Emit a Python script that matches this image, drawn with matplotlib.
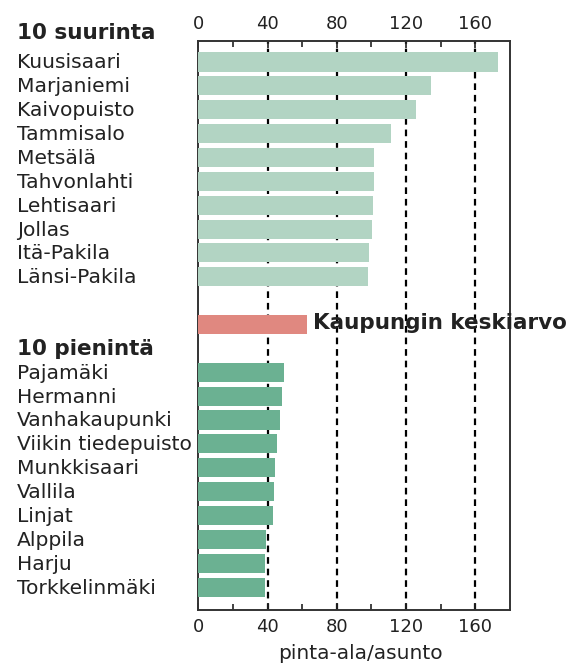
import matplotlib
matplotlib.use('Agg')
import matplotlib.pyplot as plt
from matplotlib.transforms import blended_transform_factory

# data
largest = ['Kuusisaari', 'Marjaniemi', 'Kaivopuisto', 'Tammisalo', 'Metsälä',
           'Tahvonlahti', 'Lehtisaari', 'Jollas', 'Itä-Pakila', 'Länsi-Pakila']
largest_val = [172.8, 134.3, 125.5, 111.2, 101.6, 101.3, 100.9, 100.1, 98.3, 98.2]
smallest = ['Pajamäki', 'Hermanni', 'Vanhakaupunki', 'Viikin tiedepuisto', 'Munkkisaari',
            'Vallila', 'Linjat', 'Alppila', 'Harju', 'Torkkelinmäki']
smallest_val = [49.6, 48.1, 47.3, 45.4, 44.2, 44.0, 43.0, 39.3, 38.5, 38.5]
avg_label = 'Kaupungin keskiarvo'
avg_val = 62.5
headers = ['10 suurinta', '10 pienintä']
xticks = [0, 40, 80, 120, 160]
xlabel = 'pinta-ala/asunto'

c_light = '#b2d4c3'
c_dark = '#6bb192'
c_avg = '#e08880'

plt.rcParams['font.family'] = ['DejaVu Sans']

fig = plt.figure(figsize=(5.77, 6.65), dpi=100)
ax = fig.add_axes([198.3 / 577, 1 - 610 / 665, (510 - 198.3) / 577, (610 - 41) / 665])

pos_top = list(range(10))
pos_avg = 11
pos_bot = [13 + i for i in range(10)]

ax.barh(pos_top, largest_val, height=0.8, color=c_light, zorder=3)
ax.barh([pos_avg], [avg_val], height=0.8, color=c_avg, zorder=3)
ax.barh(pos_bot, smallest_val, height=0.8, color=c_dark, zorder=3)

ax.set_xlim(0, 180)
ax.set_ylim(22.96, -0.88)

for x in xticks[1:]:
    ax.axvline(x, color='black', lw=1.6, ls=(0, (3, 2.2)), zorder=1)

ax.set_xticks(xticks)
ax.set_xticks([20, 60, 100, 140], minor=True)
ax.tick_params(axis='x', which='both', direction='in', top=True, bottom=True,
               labeltop=True, labelbottom=True, labelsize=13, colors='#222222', pad=6)
ax.tick_params(axis='x', which='major', length=5, width=1.2)
ax.tick_params(axis='x', which='minor', length=4, width=1.2)
ax.set_yticks([])
for s in ax.spines.values():
    s.set_color('#333333')
    s.set_linewidth(1.4)

ax.set_xlabel(xlabel, fontsize=14.5, color='#222222')
ax.xaxis.set_label_coords(0.521, -0.06)

trans = blended_transform_factory(fig.transFigure, ax.transData)
lx = 17 / 577
for name, p in zip(largest + smallest, pos_top + pos_bot):
    ax.text(lx, p + 0.27, name, transform=trans, fontsize=14.6, va='baseline',
            ha='left', color='#222222', clip_on=False)
ax.text(lx, -1.25 + 0.27, headers[0], transform=trans, fontsize=15.5, fontweight='bold',
        va='baseline', ha='left', color='#222222', clip_on=False)
ax.text(lx, 12 + 0.28, headers[1], transform=trans, fontsize=15.5, fontweight='bold',
        va='baseline', ha='left', color='#222222', clip_on=False)
ax.text(avg_val + 3.5, pos_avg + 0.2, avg_label, fontsize=15.5, fontweight='bold',
        va='baseline', ha='left', color='#222222', clip_on=False, zorder=4)

fig.savefig('out.png', dpi=100)
